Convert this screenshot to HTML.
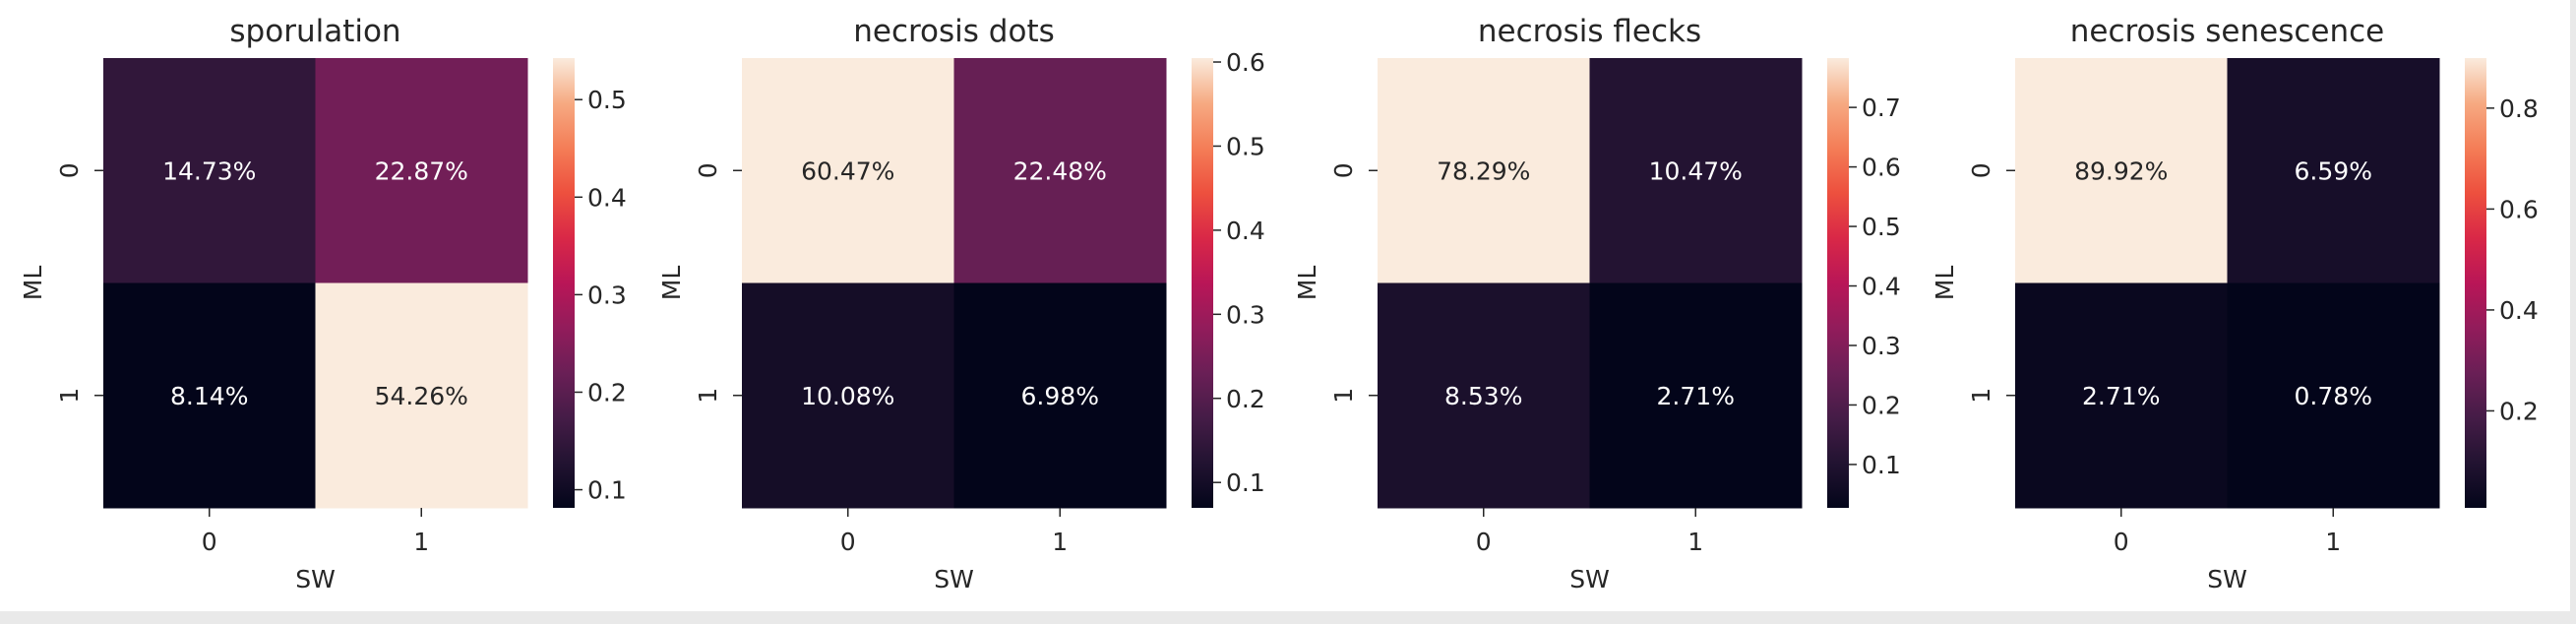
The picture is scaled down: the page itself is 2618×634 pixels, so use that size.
<!DOCTYPE html>
<html><head><meta charset="utf-8">
<style>
html,body{margin:0;padding:0;background:#fff;}
svg{display:block;}
text{font-family:"DejaVu Sans","Liberation Sans",sans-serif;fill:#262626;}
</style></head>
<body>
<svg id="chart" width="2618" height="634" viewBox="0 0 2618 634" xmlns="http://www.w3.org/2000/svg">
<rect x="0" y="0" width="2618" height="634" fill="#ffffff"/>
<rect x="0" y="621" width="2618" height="13" fill="#e9e9e9"/>
<rect x="2612" y="0" width="6" height="634" fill="#e9e9e9"/>
<defs>
<linearGradient id="rocket" x1="0" y1="1" x2="0" y2="0">
<stop offset="0" stop-color="#03051a"/><stop offset="0.1" stop-color="#221331"/>
<stop offset="0.2" stop-color="#451c47"/><stop offset="0.3" stop-color="#6a1f56"/>
<stop offset="0.4" stop-color="#921c5b"/><stop offset="0.5" stop-color="#b91657"/>
<stop offset="0.6" stop-color="#d92847"/><stop offset="0.7" stop-color="#ed503e"/>
<stop offset="0.8" stop-color="#f47d57"/><stop offset="0.9" stop-color="#f6aa82"/>
<stop offset="1" stop-color="#faebdd"/>
</linearGradient>
</defs>
</svg>
<script>
const titles = ["sporulation","necrosis dots","necrosis flecks","necrosis senescence"];
const valuesSporulation = [[0.1473,0.2287],[0.0814,0.5426]];
const valuesDots = [[0.6047,0.2248],[0.1008,0.0698]];
const valuesFlecks = [[0.7829,0.1047],[0.0853,0.0271]];
const valuesSenescence = [[0.8992,0.0659],[0.0271,0.0078]];
const cbTicks1 = [0.1,0.2,0.3,0.4,0.5];
const cbTicks2 = [0.1,0.2,0.3,0.4,0.5,0.6];
const cbTicks3 = [0.1,0.2,0.3,0.4,0.5,0.6,0.7];
const cbTicks4 = [0.2,0.4,0.6,0.8];
const rowLabels = ["0","1"];
const colLabels = ["0","1"];

const panels = [
 {title:titles[0], vals:valuesSporulation, ticks:cbTicks1, left:105},
 {title:titles[1], vals:valuesDots, ticks:cbTicks2, left:754},
 {title:titles[2], vals:valuesFlecks, ticks:cbTicks3, left:1400},
 {title:titles[3], vals:valuesSenescence, ticks:cbTicks4, left:2048}
];
const stops=[[3,5,26],[34,19,49],[69,28,71],[106,31,86],[146,28,91],[185,22,87],[217,40,71],[237,80,62],[244,125,87],[246,170,130],[250,235,221]];
function rocket(t){t=Math.max(0,Math.min(1,t));const p=t*10,i=Math.min(9,Math.floor(p)),f=p-i;
 const a=stops[i],b=stops[i+1];return a.map((v,k)=>Math.round(v+(b[k]-v)*f));}
const NS="http://www.w3.org/2000/svg";
const svg=document.getElementById('chart');
function el(tag,attrs,parent){const e=document.createElementNS(NS,tag);for(const k in attrs)e.setAttribute(k,attrs[k]);(parent||svg).appendChild(e);return e;}
const TOP=59, H=457, W=431, CBW=22;
panels.forEach((p,pi)=>{
 const g=el('g',{});
 
 
 const flat=p.vals.flat(); const vmin=Math.min(...flat), vmax=Math.max(...flat);
 const xScale=c=>p.left+c*W/2, yScale=r=>TOP+r*H/2;
 const t=el('text',{x:p.left+W/2,y:42,'text-anchor':'middle','font-size':31},g);
 t.textContent=p.title;
 
 
 p.vals.forEach((row,r)=>row.forEach((v,c)=>{
  const tn=(v-vmin)/(vmax-vmin); const col=rocket(tn);
  const rc=el('rect',{x:xScale(c),y:yScale(r),width:W/2+0.5,height:H/2+0.5,fill:`rgb(${col})`},g);
  
  
  const lum=(0.2126*col[0]+0.7152*col[1]+0.0722*col[2])/255;
  const tx=el('text',{x:xScale(c)+W/4,y:yScale(r)+H/4+9,'text-anchor':'middle','font-size':25,style:'fill:'+(lum>0.408?'#262626':'#ffffff')},g);
  tx.textContent=(v*100).toFixed(2)+'%';
  
  
 }));
 rowLabels.forEach((l,r)=>{
  const y=yScale(r)+H/4;
  el('line',{x1:p.left-9,x2:p.left,y1:y,y2:y,stroke:'#262626','stroke-width':1.5},g);
  const tx=el('text',{x:0,y:0,'text-anchor':'middle','font-size':25,transform:`translate(${p.left-26},${y}) rotate(-90)`},g);
  tx.textContent=l;
  
  
 });
 colLabels.forEach((l,c)=>{
  const x=xScale(c)+W/4;
  el('line',{x1:x,x2:x,y1:TOP+H,y2:TOP+H+9,stroke:'#262626','stroke-width':1.5},g);
  const tx=el('text',{x:x,y:559,'text-anchor':'middle','font-size':25},g);
  tx.textContent=l;
  
  
 });
 const xl=el('text',{x:p.left+W/2,y:597,'text-anchor':'middle','font-size':25},g);
 xl.textContent='SW';
 
 
 const yl=el('text',{x:0,y:0,'text-anchor':'middle','font-size':25,transform:`translate(${p.left-63},${TOP+H/2}) rotate(-90)`},g);
 yl.textContent='ML';
 
 
 const cbx=p.left+457;
 const cb=el('rect',{x:cbx,y:TOP,width:CBW,height:H,fill:'url(#rocket)'},g);
 
 
 p.ticks.forEach(v=>{
  const y=TOP+H-(v-vmin)/(vmax-vmin)*H;
  el('line',{x1:cbx+CBW,x2:cbx+CBW+8,y1:y,y2:y,stroke:'#262626','stroke-width':1.5},g);
  const tx=el('text',{x:cbx+CBW+13,y:y+9,'font-size':25},g);
  tx.textContent=v.toFixed(1);
  
  
 });
});
</script>
</body></html>
